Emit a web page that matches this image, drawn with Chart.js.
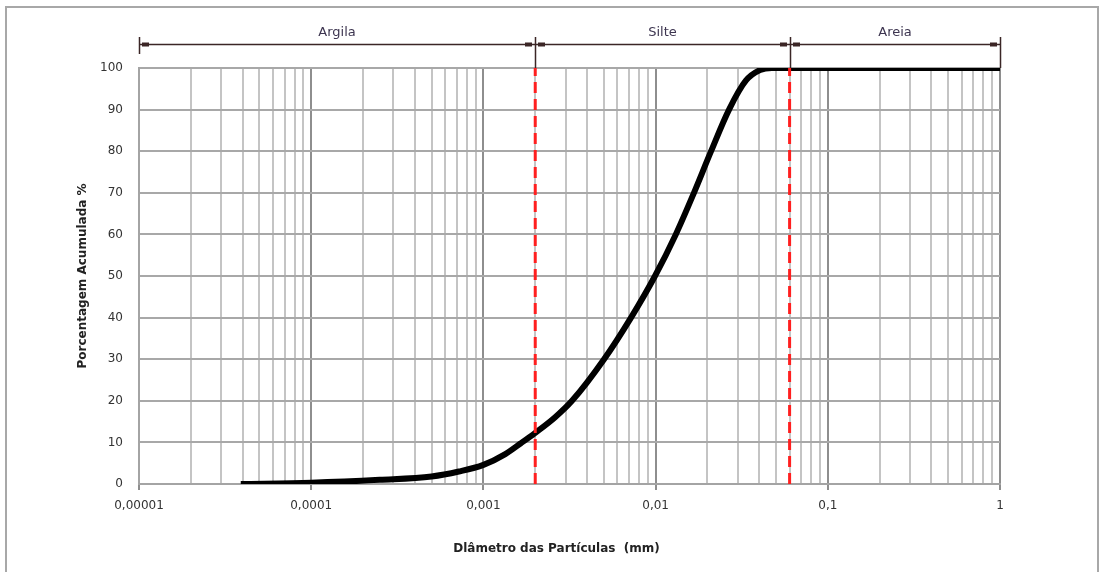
<!DOCTYPE html>
<html>
<head>
<meta charset="utf-8">
<title>Curva granulométrica</title>
<script src="https://cdn.jsdelivr.net/npm/chart.js@4.4.1/dist/chart.umd.min.js"></script>
<style>
  html, body { margin: 0; padding: 0; background: #fff; }
  #wrap { width: 1101px; height: 572px; }
</style>
</head>
<body>
<div id="wrap"><canvas id="granChart" width="1101" height="572"></canvas></div>
<script>
// particle diameter (mm) and cumulative passing (%)
const diameters = [0.000039, 0.0001, 0.00025, 0.0005, 0.00072, 0.001, 0.00134, 0.00165, 0.002,
  0.0026, 0.00327, 0.00502, 0.0072, 0.00992, 0.0131, 0.0167, 0.021, 0.0267, 0.0335, 0.0404, 0.0474, 1];
const passing = [0, 0.3, 1.0, 1.8, 3.0, 4.6, 7.2, 9.8, 12.3,
  16, 20, 30, 40, 50, 60, 70, 80, 90, 97, 99.5, 100, 100];

// soil fraction limits (mm) and their names
const zoneLimits = [0.00001, 0.002, 0.06, 1];
const zoneNames = ['Argila', 'Silte', 'Areia'];

// axis ticks
const decades = [0.00001, 0.0001, 0.001, 0.01, 0.1, 1];
const decadeLabels = ['0,00001', '0,0001', '0,001', '0,01', '0,1', '1'];
const yTicks = [0, 10, 20, 30, 40, 50, 60, 70, 80, 90, 100];

const xTitle = 'Dlâmetro das Partículas  (mm)';

const isDecade = v => Math.abs(Math.log10(v) - Math.round(Math.log10(v))) < 1e-9;

// 1..9 x 10^n grid lines for every decade
const xGridValues = [];
decades.forEach((d, i) => {
  if (i === decades.length - 1) { xGridValues.push(d); return; }
  for (let m = 1; m <= 9; m++) xGridValues.push(+(d * m).toPrecision(6));
});

const curvePoints = diameters.map((d, i) => ({ x: d, y: passing[i] }));
const limitLine = v => [{ x: v, y: 0 }, { x: v, y: 100 }];

// brackets above the plot with fraction names, x title and frame
const zoneBrackets = {
  id: 'zoneBrackets',
  afterDraw(chart) {
    const { ctx, chartArea } = chart;
    const xs = chart.scales.x;
    const yLine = 44.5;
    ctx.save();
    ctx.strokeStyle = '#3b2626';
    ctx.fillStyle = '#3b2626';
    ctx.lineWidth = 1.5;

    const px = zoneLimits.map(v => Math.round(xs.getPixelForValue(v)));
    ctx.beginPath();
    ctx.moveTo(px[0], yLine);
    ctx.lineTo(px[px.length - 1], yLine);
    px.forEach((p, i) => {
      const bottom = i === 0 ? 54 : chartArea.top;
      ctx.moveTo(p + 0.5, 37);
      ctx.lineTo(p + 0.5, bottom);
    });
    ctx.stroke();

    // small end markers
    for (let i = 0; i < px.length - 1; i++) {
      ctx.fillRect(px[i] + 3, yLine - 2, 7, 4);
      ctx.fillRect(px[i + 1] - 10, yLine - 2, 7, 4);
    }

    ctx.font = '13px "DejaVu Sans", sans-serif';
    ctx.fillStyle = '#3d3550';
    ctx.textAlign = 'center';
    ctx.textBaseline = 'middle';
    zoneNames.forEach((name, i) => {
      ctx.fillText(name, (px[i] + px[i + 1]) / 2, 33);
    });

    // x axis title
    ctx.font = 'bold 12px "DejaVu Sans", sans-serif';
    ctx.fillStyle = '#222';
    ctx.fillText(xTitle, (chartArea.left + chartArea.right) / 2 - 13, 549);

    // outer frame
    ctx.strokeStyle = '#a8a8a8';
    ctx.lineWidth = 2;
    ctx.strokeRect(6, 7, 1092, 600);
    ctx.restore();
  }
};

document.addEventListener('DOMContentLoaded', () => {
  const ctx = document.getElementById('granChart').getContext('2d');

  new Chart(ctx, {
    type: 'line',
    data: {
      datasets: [
        {
          label: 'Limite argila/silte',
          data: limitLine(zoneLimits[1]),
          borderColor: '#ff1f1f',
          borderWidth: 3,
          borderDash: [11, 6],
          pointRadius: 0
        },
        {
          label: 'Limite silte/areia',
          data: limitLine(zoneLimits[2]),
          borderColor: '#ff1f1f',
          borderWidth: 3,
          borderDash: [11, 6],
          pointRadius: 0
        },
        {
          label: 'Porcentagem acumulada',
          data: curvePoints,
          borderColor: '#000',
          borderWidth: 6,
          pointRadius: 0,
          cubicInterpolationMode: 'monotone',
          fill: false
        }
      ]
    },
    options: {
      responsive: false,
      animation: false,
      layout: { padding: { left: 70, right: 101, top: 68, bottom: 10 } },
      plugins: {
        legend: { display: false },
        tooltip: { enabled: false }
      },
      scales: {
        x: {
          type: 'logarithmic',
          min: 0.00001,
          max: 1,
          afterBuildTicks: scale => {
            scale.ticks = xGridValues.map(v => ({ value: v }));
          },
          afterFit: scale => { scale.height = 78; },
          ticks: {
            autoSkip: false,
            maxRotation: 0,
            padding: 9,
            color: '#333',
            font: { family: 'DejaVu Sans', size: 12 },
            callback: value => {
              const i = decades.findIndex(d => Math.abs(d - value) / d < 1e-6);
              return i >= 0 ? decadeLabels[i] : '';
            }
          },
          grid: {
            lineWidth: 2,
            tickLength: 6,
            color: c => (c.tick && isDecade(c.tick.value) ? '#8e8e8e' : '#c4c4c4'),
            tickColor: c => (c.tick && isDecade(c.tick.value) ? '#8e8e8e' : 'rgba(0,0,0,0)')
          },
          border: { color: '#a4a4a4', width: 2 }
        },
        y: {
          min: 0,
          max: 100,
          afterBuildTicks: scale => {
            scale.ticks = yTicks.map(v => ({ value: v }));
          },
          afterFit: scale => { scale.width = 69; },
          ticks: {
            padding: 16,
            color: '#333',
            font: { family: 'DejaVu Sans', size: 12 }
          },
          grid: {
            lineWidth: 2,
            color: '#a8a8a8',
            drawTicks: false
          },
          border: { color: '#a4a4a4', width: 2 },
          title: {
            display: true,
            text: 'Porcentagem Acumulada %',
            color: '#222',
            font: { family: 'DejaVu Sans', size: 12, weight: 'bold' },
            padding: { top: 6, bottom: 4 }
          }
        }
      }
    },
    plugins: [zoneBrackets]
  });
});
</script>
</body>
</html>
